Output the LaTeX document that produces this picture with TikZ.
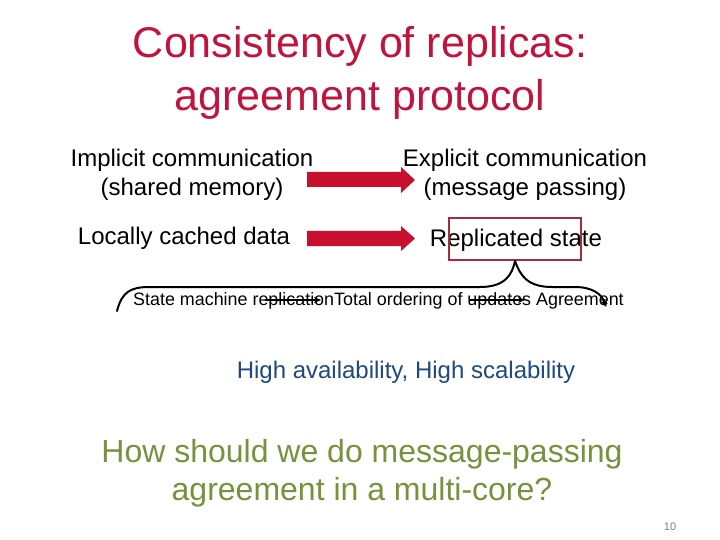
\documentclass[tikz,border=0pt]{standalone}
\usepackage{fontspec}
\setmainfont{Liberation Sans}
\usetikzlibrary{arrows.meta}
\definecolor{titlered}{HTML}{C0143C}
\definecolor{arrowred}{HTML}{C8102E}
\definecolor{boxred}{HTML}{A52A3C}
\definecolor{darkblue}{HTML}{1F497D}
\definecolor{olive}{HTML}{76923C}
\begin{document}
\begin{tikzpicture}[x=1pt,y=-1pt,
  titletxt/.style={font=\fontsize{43}{53}\selectfont,text=titlered,align=center,inner sep=0pt},
  bodytxt/.style={font=\fontsize{24}{29}\selectfont,align=center,inner sep=0pt},
  smalltxt/.style={font=\fontsize{17.9}{21}\selectfont,inner sep=0pt},
  blockarrow/.style={fill=arrowred,draw=none},
  thinarrow/.style={-{Stealth[length=7pt,width=6pt]},line width=1.2pt}
]
\useasboundingbox (0,0) rectangle (720,540);
\fill[white] (0,0) rectangle (720,540);
\node[titletxt] (title) at (360,73) {Consistency of replicas:\\agreement protocol};
\node[bodytxt] (imp) at (192,175) {Implicit communication\\(shared memory)};
\node[bodytxt] (exp) at (525,175) {Explicit communication\\(message passing)};
\node[bodytxt] (loc) at (184,238) {Locally cached data};
\node[bodytxt] (rep) at (516,240) {Replicated state};
\fill[blockarrow] (307,172) -- (401,172) -- (401,167) -- (415,180) -- (401,193) -- (401,187) -- (307,187) -- cycle;
\fill[blockarrow] (307,231) -- (401,231) -- (401,226) -- (415,238.5) -- (401,251) -- (401,246) -- (307,246) -- cycle;
\node[draw=boxred,line width=2pt,minimum width=132pt,minimum height=42pt,inner sep=0pt] (box) at (515,239) {};
\node[smalltxt,anchor=west] (sm) at (133,301) {State machine replicationTotal ordering of updates Agreement};
\coordinate (bl) at (117,311);
\coordinate (br) at (606,307);
\draw[line width=2pt,line cap=round] (bl) .. controls (122,292) and (130,287) .. (150,287) -- (480,287) .. controls (505,287) and (512,275) .. (box.south);
\draw[line width=2pt,-{Stealth[length=7pt,width=7pt]}] (box.south) .. controls (520,275) and (527,287) .. (552,287) -- (575,287) .. controls (592,287) and (602,294) .. (br);
\coordinate (r1s) at (265,300);
\coordinate (r1e) at (321,300);
\coordinate (r2s) at (470,300);
\coordinate (r2e) at (525,300);
\draw[thinarrow] (r1s) -- (r1e);
\draw[thinarrow] (r2s) -- (r2e);
\node[bodytxt,text=darkblue] (hi) at (406,372) {High availability, High scalability};
\node[font=\fontsize{32}{38}\selectfont,text=olive,align=center,inner sep=0pt] (how) at (362,473) {How should we do message-passing\\agreement in a multi-core?};
\node[font=\fontsize{11}{13}\selectfont,text=gray,inner sep=0pt] (pg) at (670,527) {10};
\end{tikzpicture}
\end{document}
